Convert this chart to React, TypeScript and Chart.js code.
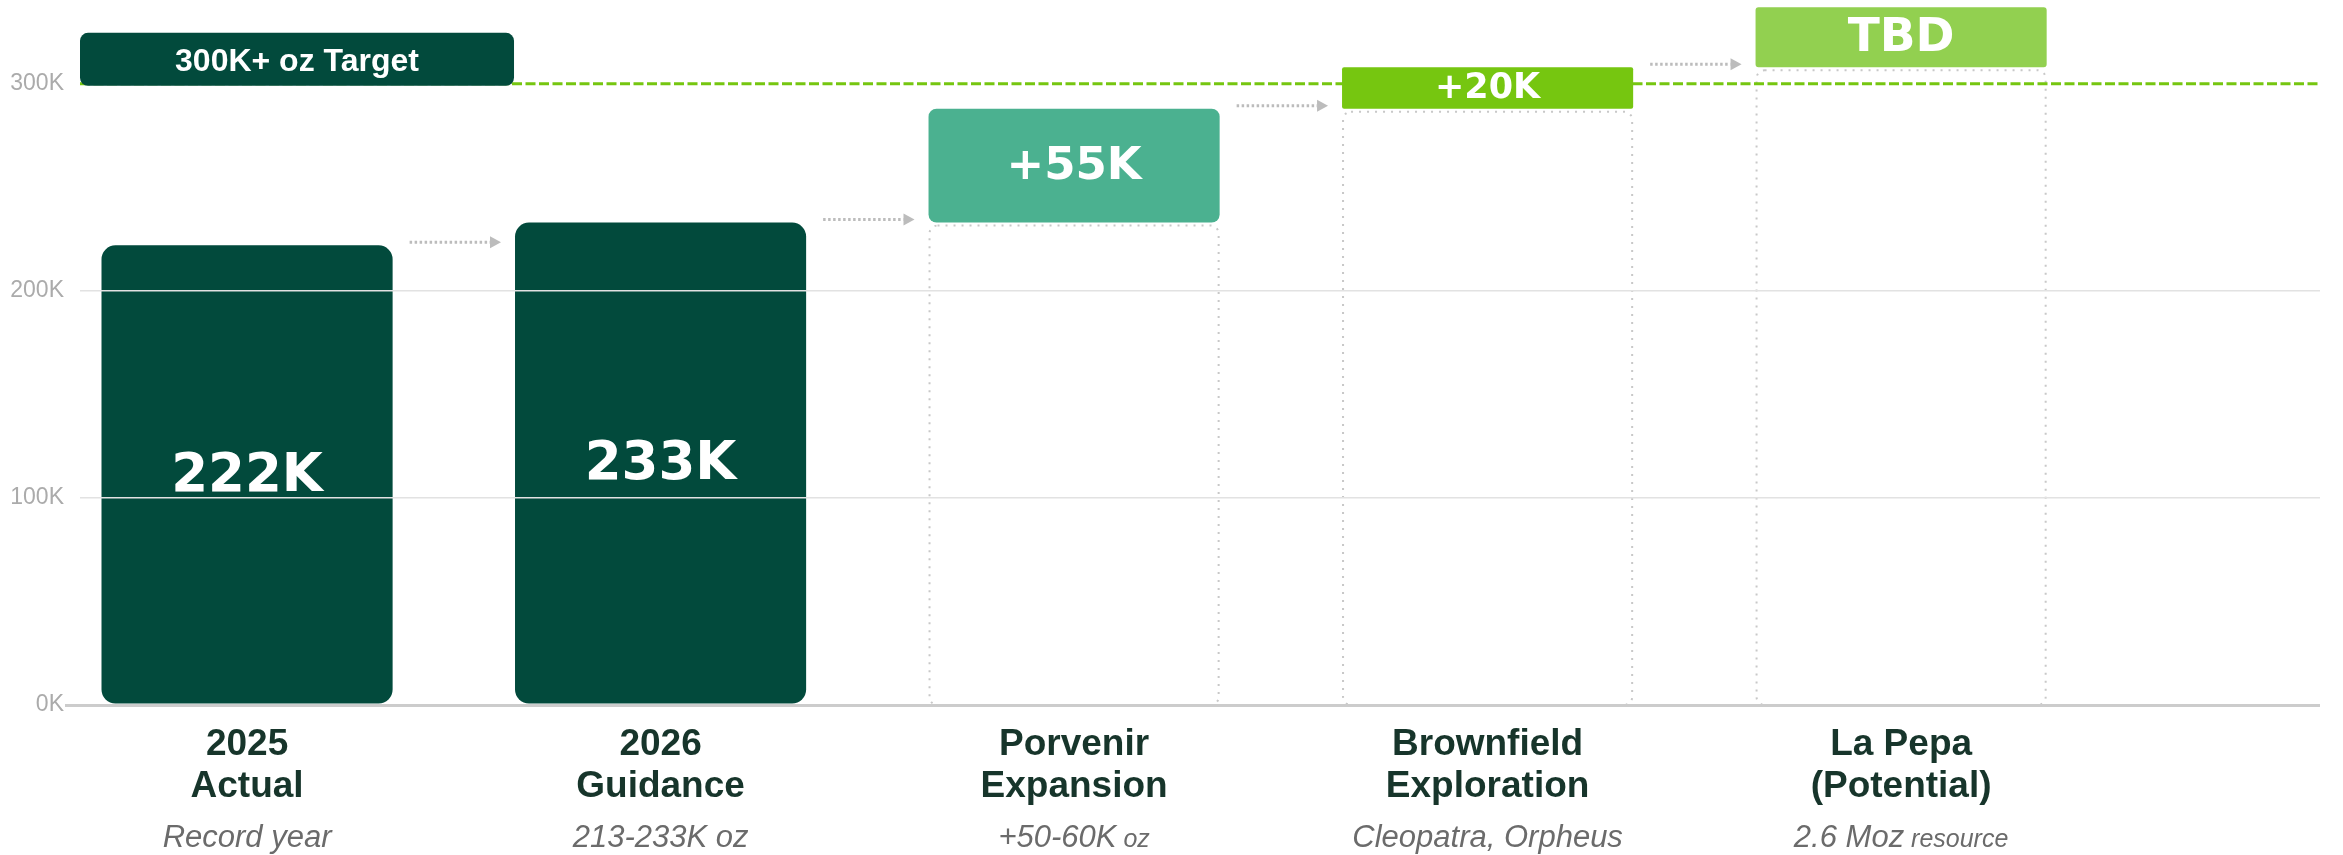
import React, { useEffect, useRef } from 'react';
import { Chart, registerables } from 'chart.js';

Chart.register(...registerables);

// ---------- data ----------
const categoryTitles = ['2025', '2026', 'Porvenir', 'Brownfield', 'La Pepa'];
const categorySubtitles = ['Actual', 'Guidance', 'Expansion', 'Exploration', '(Potential)'];
// note segments: [text, isSmall]
const categoryNotes: [string, boolean][][] = [
  [['Record year', false]],
  [['213-233K oz', false]],
  [['+50-60K', false], [' oz', true]],
  [['Cleopatra, Orpheus', false]],
  [['2.6 Moz', false], [' resource', true]],
];
const barStart = [0, 0, 233000, 288000, 308000];
const barEnd = [222000, 233000, 288000, 308000, 337000];
const barLabels = ['222K', '233K', '+55K', '+20K', 'TBD'];
const targetValue = 300000;
const targetLabel = '300K+ oz Target';
const yTickValues = [0, 100000, 200000, 300000];

// ---------- style ----------
const W = 2343;
const H = 855;
const BAR_COLORS = ['#024a3c', '#024a3c', '#4bb190', '#76c610', '#92d050'];
const BAR_RADII = [14, 14, 8, 2, 3];
const LABEL_SIZES = [53, 53, 45, 35, 47];
const DARK = '#024a3c';
const TARGET_GREEN = '#76c610';

export default function App() {
  const ref = useRef<HTMLCanvasElement>(null);

  useEffect(() => {
    document.body.style.margin = '0';
    const canvas = ref.current!;

    const overlay = {
      id: 'overlay',
      beforeDatasetsDraw(chart: any) {
        const ctx = chart.ctx as CanvasRenderingContext2D;
        const area = chart.chartArea;
        const y = chart.scales.y;
        const meta = chart.getDatasetMeta(0);
        // dotted outlines under floating bars
        ctx.save();
        ctx.strokeStyle = '#c8c8c8';
        ctx.lineWidth = 2;
        ctx.setLineDash([2, 6]);
        meta.data.forEach((el: any, i: number) => {
          if (barStart[i] <= 0) return;
          const left = el.x - el.width / 2 + 1;
          const right = el.x + el.width / 2 - 1;
          const top = el.base + 3;
          const bottom = y.getPixelForValue(0);
          ctx.beginPath();
          (ctx as any).roundRect(left, top, right - left, bottom - top, 8);
          ctx.stroke();
        });
        ctx.restore();
        // dashed target line
        const ty = y.getPixelForValue(targetValue);
        ctx.save();
        ctx.strokeStyle = TARGET_GREEN;
        ctx.lineWidth = 3;
        ctx.setLineDash([10, 3.5]);
        ctx.beginPath();
        ctx.moveTo(area.left, ty);
        ctx.lineTo(area.right, ty);
        ctx.stroke();
        ctx.restore();
      },
      afterDatasetsDraw(chart: any) {
        const ctx = chart.ctx as CanvasRenderingContext2D;
        const area = chart.chartArea;
        const y = chart.scales.y;
        const meta = chart.getDatasetMeta(0);
        const els = meta.data as any[];
        // value labels
        ctx.save();
        ctx.fillStyle = '#ffffff';
        ctx.textAlign = 'center';
        ctx.textBaseline = 'alphabetic';
        els.forEach((el, i) => {
          const size = LABEL_SIZES[i];
          ctx.font = `bold ${size}px "DejaVu Sans"`;
          const mid = (el.y + el.base) / 2 - 3;
          ctx.fillText(barLabels[i], el.x, mid + size * 0.729 / 2);
        });
        ctx.restore();
        // arrows
        ctx.save();
        ctx.strokeStyle = '#bcbcbc';
        ctx.fillStyle = '#bcbcbc';
        for (let i = 0; i < els.length - 1; i++) {
          const a = els[i];
          const b = els[i + 1];
          const x1 = a.x + a.width / 2 + 17;
          const x2 = b.x - b.width / 2 - 14;
          const yy = Math.min(a.y, a.base) - 3;
          ctx.lineWidth = 3;
          ctx.setLineDash([2.5, 2.5]);
          ctx.beginPath();
          ctx.moveTo(x1, yy);
          ctx.lineTo(x2 - 11, yy);
          ctx.stroke();
          ctx.setLineDash([]);
          ctx.beginPath();
          ctx.moveTo(x2 - 11, yy - 6);
          ctx.lineTo(x2, yy);
          ctx.lineTo(x2 - 11, yy + 6);
          ctx.closePath();
          ctx.fill();
        }
        ctx.restore();
        // target box
        const ty = y.getPixelForValue(targetValue);
        const boxLeft = area.left;
        const boxRight = els[1].x - els[1].width / 2 - 1;
        const boxBottom = ty + 2;
        const boxTop = boxBottom - 53;
        ctx.save();
        ctx.fillStyle = DARK;
        ctx.beginPath();
        (ctx as any).roundRect(boxLeft, boxTop, boxRight - boxLeft, boxBottom - boxTop, 8);
        ctx.fill();
        ctx.fillStyle = '#ffffff';
        ctx.font = 'bold 32px "Liberation Sans", Arial, sans-serif';
        ctx.textAlign = 'center';
        ctx.textBaseline = 'alphabetic';
        ctx.fillText(targetLabel, (boxLeft + boxRight) / 2, (boxTop + boxBottom) / 2 + 11.5);
        ctx.restore();
      },
      afterDraw(chart: any) {
        const ctx = chart.ctx as CanvasRenderingContext2D;
        const x = chart.scales.x;
        const bottom = chart.chartArea.bottom;
        ctx.save();
        ctx.textBaseline = 'alphabetic';
        categoryTitles.forEach((t, i) => {
          const cx = x.getPixelForValue(i);
          ctx.fillStyle = '#17352b';
          ctx.textAlign = 'center';
          ctx.font = 'bold 37px "Liberation Sans", Arial, sans-serif';
          ctx.fillText(t, cx, bottom + 50);
          ctx.fillText(categorySubtitles[i], cx, bottom + 92);
          // notes
          ctx.fillStyle = '#6b6b6b';
          ctx.textAlign = 'left';
          const segs = categoryNotes[i];
          const fontFor = (small: boolean) =>
            `italic ${small ? 25 : 31}px "Liberation Sans", Arial, sans-serif`;
          let total = 0;
          segs.forEach(([s, small]) => {
            ctx.font = fontFor(small);
            total += ctx.measureText(s).width;
          });
          let sx = cx - total / 2;
          segs.forEach(([s, small]) => {
            ctx.font = fontFor(small);
            ctx.fillText(s, sx, bottom + 142);
            sx += ctx.measureText(s).width;
          });
        });
        ctx.restore();
      },
    };

    const chart = new Chart(canvas, {
      type: 'bar',
      data: {
        datasets: [
          {
            data: barEnd.map((e, i) => ({ x: i, y: [barStart[i], e] })) as any,
            backgroundColor: BAR_COLORS,
            borderRadius: BAR_RADII,
            borderSkipped: false,
            barPercentage: 0.704,
            categoryPercentage: 1,
          } as any,
        ],
      },
      options: {
        responsive: false,
        animation: false,
        devicePixelRatio: 1,
        layout: { padding: { top: 1, right: 23, bottom: 150, left: 0 } },
        plugins: {
          legend: { display: false },
          tooltip: { enabled: false },
        },
        scales: {
          x: {
            type: 'linear',
            min: -0.404,
            max: 5.013,
            offset: false,
            display: false,
            afterBuildTicks: (s: any) => {
              s.ticks = categoryTitles.map((_, i) => ({ value: i }));
            },
          },
          y: {
            type: 'linear',
            min: 0,
            max: 340000,
            border: { display: false },
            afterBuildTicks: (s: any) => {
              s.ticks = yTickValues.map((v) => ({ value: v }));
            },
            afterFit: (s: any) => {
              s.width = 80;
              s.paddingTop = 0;
              s.paddingBottom = 0;
            },
            ticks: {
              color: '#ababab',
              padding: 1,
              font: { family: '"Liberation Sans", Arial, sans-serif', size: 23 },
              callback: (v: any) => `${Number(v) / 1000}K`,
            },
            grid: {
              z: 1,
              drawTicks: true,
              tickLength: 15,
              color: (c: any) => {
                const v = c.tick?.value;
                if (v === targetValue) return 'rgba(0,0,0,0)';
                if (v === 0) return '#cccccc';
                return '#e2e2e2';
              },
              lineWidth: (c: any) => (c.tick?.value === 0 ? 3 : 1.5),
              tickColor: (c: any) => (c.tick?.value === 0 ? '#cccccc' : 'rgba(0,0,0,0)'),
            },
          },
        },
      } as any,
      plugins: [overlay],
    });

    return () => chart.destroy();
  }, []);

  return (
    <div style={{ width: W, height: H, position: 'relative' }}>
      <canvas ref={ref} width={W} height={H} style={{ display: 'block', width: W, height: H }} />
    </div>
  );
}
